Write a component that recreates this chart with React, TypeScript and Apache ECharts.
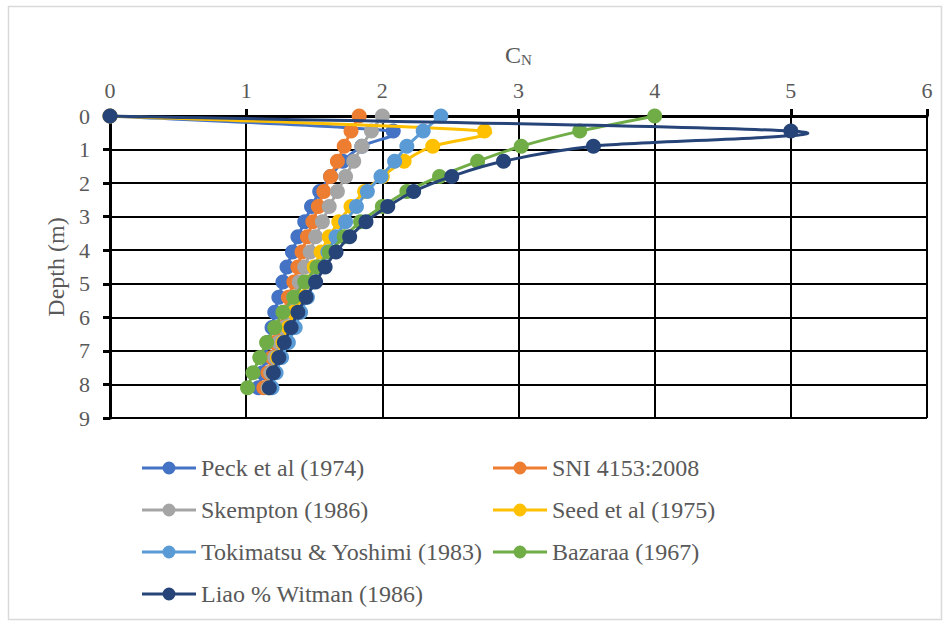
import React, { useEffect, useRef } from "react";
import * as echarts from "echarts";

const depths = [0, 0.45, 0.9, 1.35, 1.8, 2.25, 2.7, 3.15, 3.6, 4.05, 4.5, 4.95, 5.4, 5.85, 6.3, 6.75, 7.2, 7.65, 8.1];

const peck = [0, 2.08, 1.85, 1.71, 1.62, 1.54, 1.48, 1.43, 1.38, 1.34, 1.3, 1.27, 1.24, 1.21, 1.19, 1.16, 1.14, 1.12, 1.09];
const sni = [1.83, 1.77, 1.72, 1.67, 1.62, 1.57, 1.53, 1.49, 1.45, 1.41, 1.38, 1.35, 1.31, 1.28, 1.25, 1.21, 1.19, 1.16, 1.13];
const skempton = [2.0, 1.92, 1.85, 1.79, 1.73, 1.67, 1.61, 1.56, 1.51, 1.47, 1.43, 1.39, 1.35, 1.31, 1.28, 1.24, 1.21, 1.18, 1.16];
const seed = [0, 2.75, 2.37, 2.16, 2.0, 1.87, 1.77, 1.68, 1.61, 1.55, 1.5, 1.45, 1.4, 1.35, 1.31, 1.27, 1.23, 1.2, 1.17];
const tokimatsu = [2.43, 2.3, 2.18, 2.09, 1.99, 1.89, 1.81, 1.73, 1.66, 1.6, 1.54, 1.49, 1.45, 1.4, 1.36, 1.31, 1.26, 1.22, 1.19];
const bazaraa = [4.0, 3.45, 3.02, 2.7, 2.42, 2.18, 2.0, 1.84, 1.72, 1.61, 1.52, 1.43, 1.35, 1.27, 1.21, 1.15, 1.1, 1.05, 1.01];
const liao = [0, 5.0, 3.55, 2.89, 2.51, 2.23, 2.04, 1.88, 1.76, 1.66, 1.58, 1.51, 1.44, 1.38, 1.33, 1.28, 1.24, 1.2, 1.17];

const seriesNames = [
  "Peck et al (1974)",
  "SNI 4153:2008",
  "Skempton (1986)",
  "Seed et al (1975)",
  "Tokimatsu & Yoshimi (1983)",
  "Bazaraa (1967)",
  "Liao % Witman (1986)",
];
const seriesValues = [peck, sni, skempton, seed, tokimatsu, bazaraa, liao];
const seriesColors = ["#4472C4", "#ED7D31", "#A5A5A5", "#FFC000", "#5B9BD5", "#70AD47", "#264478"];

const FONT = "Liberation Serif";
const TXT = "#595959";
const LEGEND_ICON =
  "path://M0,5L21,5L21,8L0,8Z M33,5L54,5L54,8L33,8Z M20.5,6.5A6.5,6.5 0 1 1 33.5,6.5A6.5,6.5 0 1 1 20.5,6.5Z";

// control vector: Catmull-Rom tangent (1/6), capped relative to the adjacent segment
function ctrl(a: number[], b: number[], seg: number) {
  let vx = (b[0] - a[0]) / 6;
  let vy = (b[1] - a[1]) / 6;
  const len = Math.hypot(vx, vy);
  const cap = 0.5 * seg;
  if (len > cap && len > 0) {
    vx *= cap / len;
    vy *= cap / len;
  }
  return [vx, vy];
}

export default function App() {
  const ref = useRef<HTMLDivElement>(null);
  useEffect(() => {
    if (!ref.current) return;
    const chart = echarts.init(ref.current, null, { renderer: "svg" });
    const n = depths.length;
    const series = seriesNames.map((name, k) => {
      const vals = seriesValues[k];
      const color = seriesColors[k];
      return {
        name,
        type: "custom",
        coordinateSystem: "cartesian2d",
        data: depths.map((d, i) => [vals[i], d]),
        encode: { x: 0, y: 1 },
        itemStyle: { color },
        renderItem: (params: any, api: any) => {
          const i = params.dataIndex;
          const P = (j: number) => {
            const jj = Math.max(0, Math.min(n - 1, j));
            return api.coord([vals[jj], depths[jj]]);
          };
          const p1 = P(i);
          const children: any[] = [];
          if (i < n - 1) {
            const p0 = P(i - 1);
            const p2 = P(i + 1);
            const p3 = P(i + 2);
            const seg = Math.hypot(p2[0] - p1[0], p2[1] - p1[1]);
            const c1 = ctrl(p0, p2, seg);
            const c2 = ctrl(p1, p3, seg);
            children.push({
              type: "bezierCurve",
              shape: {
                x1: p1[0],
                y1: p1[1],
                x2: p2[0],
                y2: p2[1],
                cpx1: p1[0] + c1[0],
                cpy1: p1[1] + c1[1],
                cpx2: p2[0] - c2[0],
                cpy2: p2[1] - c2[1],
              },
              style: { stroke: color, lineWidth: 3, fill: "none", lineCap: "round" },
            });
          }
          children.push({
            type: "circle",
            shape: { cx: p1[0], cy: p1[1], r: 7.5 },
            style: { fill: color },
          });
          return { type: "group", children };
        },
      };
    });
    const legendCommon = {
      orient: "vertical",
      padding: 0,
      itemWidth: 54,
      itemHeight: 13,
      itemGap: 18,
      textStyle: { fontFamily: FONT, fontSize: 24, color: TXT },
      selectedMode: false,
    };
    chart.setOption({
      animation: false,
      backgroundColor: "#ffffff",
      graphic: [
        {
          type: "rect",
          shape: { x: 8.5, y: 6.5, width: 933, height: 613 },
          style: { fill: "none", stroke: "#D9D9D9", lineWidth: 1.5 },
          silent: true,
        },
      ],
      grid: { left: 110, top: 116, width: 817, height: 302 },
      xAxis: {
        type: "value",
        position: "top",
        min: 0,
        max: 6,
        interval: 1,
        name: "C{sub|N}",
        nameLocation: "middle",
        nameGap: 49,
        nameTextStyle: {
          fontFamily: FONT,
          fontSize: 24,
          color: TXT,
          rich: { sub: { fontFamily: FONT, fontSize: 15, color: TXT, padding: [10, 0, 0, 0] } },
        },
        axisLine: { show: true, lineStyle: { color: "#000", width: 3 } },
        axisTick: { show: true, inside: false, length: 7, lineStyle: { color: "#000", width: 3 } },
        axisLabel: { fontFamily: FONT, fontSize: 22, color: TXT, margin: 15 },
        splitLine: { show: true, lineStyle: { color: "#000", width: 2 } },
      },
      yAxis: {
        type: "value",
        inverse: true,
        min: 0,
        max: 9,
        interval: 1,
        name: "Depth (m)",
        nameLocation: "middle",
        nameRotate: 90,
        nameGap: 40,
        nameTextStyle: { fontFamily: FONT, fontSize: 24, color: TXT },
        axisLine: { show: true, lineStyle: { color: "#000", width: 3 } },
        axisTick: { show: true, inside: false, length: 7, lineStyle: { color: "#000", width: 3 } },
        axisLabel: { fontFamily: FONT, fontSize: 22, color: TXT, margin: 20 },
        splitLine: { show: true, lineStyle: { color: "#000", width: 2 } },
      },
      legend: [
        {
          ...legendCommon,
          left: 142,
          top: 456,
          data: [0, 2, 4, 6].map((k) => ({ name: seriesNames[k], icon: LEGEND_ICON })),
        },
        {
          ...legendCommon,
          left: 493,
          top: 456,
          data: [1, 3, 5].map((k) => ({ name: seriesNames[k], icon: LEGEND_ICON })),
        },
      ],
      series,
    });
    return () => chart.dispose();
  }, []);
  return (
    <div
      ref={ref}
      style={{ position: "absolute", left: 0, top: 0, width: 949, height: 625 }}
    />
  );
}
